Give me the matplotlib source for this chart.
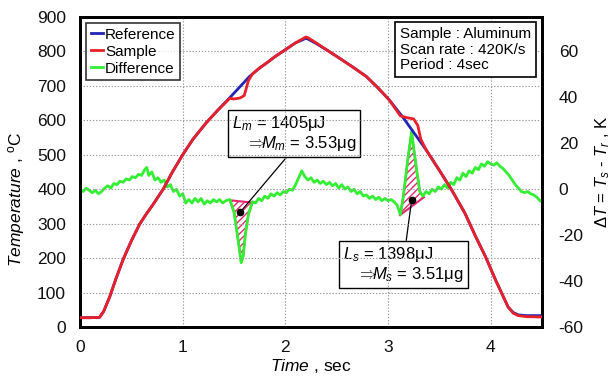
import numpy as np
import matplotlib
matplotlib.use("Agg")
import matplotlib.pyplot as plt
from matplotlib.lines import Line2D

plt.rcParams['font.family'] = ['Liberation Sans', 'DejaVu Sans']
plt.rcParams['mathtext.fontset'] = 'custom'
plt.rcParams['mathtext.rm'] = 'Liberation Sans'
plt.rcParams['mathtext.it'] = 'Liberation Sans:italic'
plt.rcParams['mathtext.bf'] = 'Liberation Sans:bold'

# ---------------- data ----------------
t_ref = [0.00, 0.10, 0.19, 0.23, 0.29, 0.35, 0.42, 0.50, 0.58, 0.65, 0.71, 0.81, 0.90, 1.00,
         1.10, 1.23, 1.35, 1.46, 1.55, 1.65, 1.75, 1.82, 1.90, 2.00, 2.10, 2.20, 2.22, 2.30,
         2.40, 2.55, 2.67, 2.79, 2.90, 3.01, 3.14, 3.25, 3.37, 3.50, 3.62, 3.75, 3.85, 3.95,
         4.05, 4.12, 4.17, 4.22, 4.27, 4.35, 4.50]
T_ref = [27, 27, 28, 45, 88, 140, 196, 250, 298, 330, 355, 400, 450, 500,
         545, 593, 632, 666, 695, 727, 752, 767, 785, 805, 825, 838, 836, 823,
         805, 776, 752, 727, 695, 660, 611, 565, 515, 455, 398, 330, 265, 204,
         135, 90, 58, 42, 35, 33, 33]

t_smp = [0.00, 0.10, 0.19, 0.23, 0.29, 0.35, 0.42, 0.50, 0.58, 0.65, 0.71, 0.81, 0.90, 1.00,
         1.10, 1.23, 1.35, 1.46, 1.50, 1.56, 1.60, 1.64, 1.68, 1.75, 1.82, 1.90, 2.00, 2.10,
         2.20, 2.22, 2.30, 2.40, 2.55, 2.67, 2.79, 2.90, 3.01, 3.12, 3.18, 3.25, 3.29, 3.32,
         3.37, 3.50, 3.62, 3.75, 3.85, 3.95, 4.05, 4.12, 4.17, 4.22, 4.27, 4.35, 4.50]
T_smp = [27, 27, 28, 45, 88, 140, 196, 250, 298, 330, 355, 400, 450, 500,
         545, 593, 632, 664, 662, 665, 672, 715, 735, 752, 767, 785, 805, 825,
         842, 840, 825, 805, 776, 752, 727, 695, 660, 613, 608, 604, 585, 545,
         515, 455, 398, 330, 265, 204, 135, 90, 58, 40, 33, 30, 29]

t_dif = [0.00, 0.03, 0.06, 0.09, 0.12, 0.15, 0.18, 0.21, 0.24, 0.27, 0.30, 0.33, 0.36, 0.39,
         0.42, 0.45, 0.48, 0.51, 0.54, 0.57, 0.60, 0.63, 0.65, 0.67, 0.70, 0.73, 0.76, 0.79,
         0.82, 0.85, 0.88, 0.91, 0.94, 0.97, 1.00, 1.03, 1.06, 1.09, 1.12, 1.15, 1.18, 1.21,
         1.24, 1.27, 1.30, 1.33, 1.36, 1.39, 1.42, 1.46, 1.50, 1.54, 1.57, 1.59, 1.61, 1.64,
         1.68, 1.71, 1.74, 1.77, 1.80, 1.83, 1.86, 1.89, 1.92, 1.95, 1.98, 2.01, 2.04, 2.07,
         2.10, 2.13, 2.16, 2.19, 2.22, 2.25, 2.28, 2.31, 2.34, 2.37, 2.40, 2.43, 2.46, 2.49,
         2.52, 2.55, 2.58, 2.61, 2.64, 2.67, 2.70, 2.73, 2.76, 2.79, 2.82, 2.85, 2.88, 2.91,
         2.94, 2.97, 3.00, 3.03, 3.06, 3.09, 3.12, 3.15, 3.19, 3.23, 3.25, 3.28, 3.31, 3.34,
         3.37, 3.40, 3.43, 3.46, 3.49, 3.52, 3.55, 3.58, 3.61, 3.64, 3.67, 3.70, 3.73, 3.76,
         3.79, 3.82, 3.85, 3.88, 3.91, 3.94, 3.97, 4.00, 4.03, 4.06, 4.09, 4.12, 4.15, 4.18,
         4.21, 4.24, 4.27, 4.30, 4.33, 4.36, 4.39, 4.42, 4.45, 4.48, 4.50]
dT_dif = [0.0, -1, 0.5, -0.5, -1.5, -0.5, -2, -1, 0.5, 1.5, 0.5, 2.5, 2, 3.5,
          3, 4.5, 4, 5.5, 5, 6.5, 6, 8.5, 9.5, 6, 7.5, 4, 5, 3,
          4, 1, 2, -1, 0, -3, -2, -6, -4.5, -6, -4, -5.5, -4, -6.5,
          -5, -6, -4.5, -5.5, -4.5, -6, -5, -4.5, -10, -22, -32, -29, -20, -11,
          -5.5, -6, -4, -5, -3, -4, -2, -3, -1.5, -2.5, -1, -1.5, 0, -0.5,
          2, 5, 8, 5.5, 4, 5, 3, 4, 2.5, 3.5, 2, 3, 1.5, 2.5,
          0.5, 2, 0, 1, -1, 0, -2, -1, -3, -2.5, -4, -3, -4.5, -3.5,
          -5, -4, -5, -4.5, -5.5, -7, -11, -3, 12, 25, 18, 8, -1, -3,
          -1, -2, 0, -1, 1, 0, 2, 0.5, 3, 2, 5, 4, 7, 5.5,
          8, 7, 9.5, 8.5, 11, 10, 12, 11, 10.5, 11.5, 10, 9, 7.5, 6,
          4, 2, 0.5, -1, -1.5, -1, -2, -2.5, -3.5, -5, -5.5]

# baselines of the integrated peaks (t_start, dT_start, t_end, dT_end)
peak_m = [1.46, -4.8, 1.715, -6.0]
peak_s = [3.11, -11.5, 3.35, -3.5]
dot_m = [1.56, -10.0]
dot_s = [3.23, -4.8]

x_ticks = [0, 1, 2, 3, 4]
yl_ticks = [0, 100, 200, 300, 400, 500, 600, 700, 800, 900]
yr_ticks = [-60, -40, -20, 0, 20, 40, 60]

# ---------------- figure ----------------
fig = plt.figure(figsize=(6.13, 3.81), dpi=100)
ax1 = fig.add_axes([80/613, 1-327/381, 462/613, 310/381])
ax2 = ax1.twinx()
ax1.set_zorder(ax2.get_zorder() + 1)
ax1.patch.set_visible(False)

c_blue = '#2323b4'
c_red = '#e8202a'
c_green = '#33ee33'
c_hatch = '#e0286e'

# hatched peak areas
t_d = np.array(t_dif)
d_d = np.array(dT_dif)
for pk in (peak_m, peak_s):
    t0, d0, t1, d1 = pk
    m = (t_d > t0) & (t_d < t1)
    xs = np.concatenate([[t0], t_d[m], [t1]])
    ys = np.concatenate([[d0], d_d[m], [d1]])
    ax2.fill(xs, ys, facecolor='white', edgecolor=c_hatch, hatch='/////',
             linewidth=1.5, zorder=2)

ax2.plot(t_dif, dT_dif, color=c_green, lw=2.0, zorder=3)

ax1.plot(t_ref, T_ref, color=c_blue, lw=2.0, zorder=3)
ax1.plot(t_smp, T_smp, color=c_red, lw=2.0, zorder=4)

# dots and annotations
ax2.plot([dot_m[0], dot_s[0]], [dot_m[1], dot_s[1]], 'o', color='black', ms=4.5, zorder=5)
bbox = dict(boxstyle='square,pad=0.25', facecolor='white', edgecolor='black', lw=1.0)
ax2.annotate("$L_m$ = 1405μJ\n   $\\Rightarrow\\!\\!\\!M_m$ = 3.53μg", xy=(dot_m[0], dot_m[1]),
             xycoords='data', xytext=(232/613, 1-114/381), textcoords='figure fraction',
             ha='left', va='top', fontsize=12, bbox=bbox, linespacing=1.05,
             arrowprops=dict(arrowstyle='-', color='black', lw=0.9,
                             shrinkA=0, shrinkB=0,
                             relpos=(0.47, 0.0)), zorder=6)
ax2.annotate("$L_s$ = 1398μJ\n   $\\Rightarrow\\!\\!\\!M_s$ = 3.51μg", xy=(dot_s[0], dot_s[1]),
             xycoords='data', xytext=(343/613, 1-245/381), textcoords='figure fraction',
             ha='left', va='top', fontsize=12, bbox=bbox, linespacing=1.05,
             arrowprops=dict(arrowstyle='-', color='black', lw=0.9,
                             shrinkA=0, shrinkB=0,
                             relpos=(0.52, 1.0)), zorder=6)

# axes ranges
ax1.set_xlim(0, 4.5)
ax1.set_ylim(0, 900)
ax2.set_ylim(-60, 75)
ax1.set_xticks(x_ticks)
ax1.set_yticks(yl_ticks)
ax2.set_yticks(yr_ticks)
ax1.set_xticklabels([str(v) for v in x_ticks])
ax1.set_yticklabels([str(v) for v in yl_ticks])
ax2.set_yticklabels([str(v) for v in yr_ticks])

ax1.grid(True, color='#9a9a9a', linestyle=(0, (1.2, 1.6)), lw=0.8)
ax1.set_axisbelow(True)
ax1.tick_params(axis='both', length=0, labelsize=12.5, colors='#111111')
ax1.tick_params(axis='y', pad=10)
ax1.tick_params(axis='x', pad=9)
ax2.tick_params(axis='y', length=0, labelsize=12.5, pad=12, colors='#111111')
for ax in (ax1, ax2):
    for sp in ax.spines.values():
        sp.set_linewidth(2.0)
        sp.set_color('black')

ax1.set_xlabel("$\\mathit{Time}$ , sec", fontsize=12.5, labelpad=2)
ax1.set_ylabel("$\\mathit{Temperature}$ , $^{\\mathrm{o}}$C", fontsize=12.5, va='center')
ax1.yaxis.set_label_coords(-0.137, 0.41)
ax2.set_ylabel("$\\mathit{ΔT}$ = $\\mathit{T_s}$ - $\\mathit{T_r}$ , K", fontsize=12,
               rotation=90, va='center')
ax2.yaxis.set_label_coords(1.131, 0.5)

handles = [Line2D([], [], color=c_blue, lw=2),
           Line2D([], [], color=c_red, lw=2),
           Line2D([], [], color=c_green, lw=2)]
leg = ax1.legend(handles, ['Reference', 'Sample', 'Difference'], loc='upper left',
                 fontsize=11, frameon=True, fancybox=False, edgecolor='black',
                 handlelength=0.8, handletextpad=0.15, labelspacing=0.2,
                 borderpad=0.3, borderaxespad=0.4)
leg.get_frame().set_linewidth(1.2)
leg.set_zorder(10)

ax1.text(400/613, 1-27/381, "Sample : Aluminum\nScan rate : 420K/s\nPeriod : 4sec",
         transform=fig.transFigure, ha='left', va='top', fontsize=11, linespacing=1.15,
         multialignment='left',
         bbox=dict(boxstyle='square,pad=0.3', facecolor='white', edgecolor='black', lw=1.2),
         zorder=10)

fig.savefig('out.png', dpi=100)
